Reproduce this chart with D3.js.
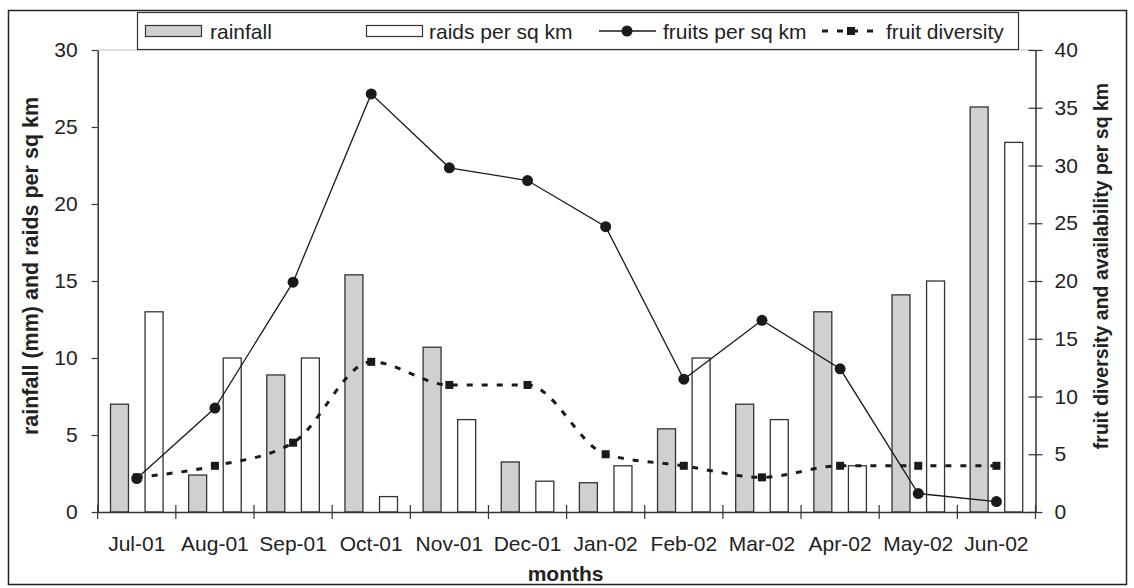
<!DOCTYPE html>
<html>
<head>
<meta charset="utf-8">
<script src="https://cdn.jsdelivr.net/npm/d3@7"></script>
<style>
  html, body { margin: 0; padding: 0; background: #fff; }
  svg { display: block; }
  text { font-family: "Liberation Sans", Arial, sans-serif; fill: #222; }
</style>
</head>
<body>
<script>
// ---- data ----
const months = ["Jul-01","Aug-01","Sep-01","Oct-01","Nov-01","Dec-01","Jan-02","Feb-02","Mar-02","Apr-02","May-02","Jun-02"];
const rainfall = [7.0, 2.4, 8.9, 15.4, 10.7, 3.25, 1.9, 5.4, 7.0, 13.0, 14.1, 26.3];
const raids = [13, 10, 10, 1, 6, 2, 3, 10, 6, 3, 15, 24];
const fruits = [2.9, 9.0, 19.9, 36.2, 29.8, 28.7, 24.7, 11.5, 16.6, 12.4, 1.6, 0.9];
const diversity = [3, 4, 6, 13, 11, 11, 5, 4, 3, 4, 4, 4];
const leftTicks = [0, 5, 10, 15, 20, 25, 30];
const rightTicks = [0, 5, 10, 15, 20, 25, 30, 35, 40];
const seriesNames = ["rainfall", "raids per sq km", "fruits per sq km", "fruit diversity"];
const xTitle = "months";
const yLeftTitle = "rainfall (mm) and raids per sq km";
const yRightTitle = "fruit diversity and availability per sq km";

// ---- layout ----
const W = 1134, H = 588;
const plot = { left: 97.7, right: 1035.5, top: 50, bottom: 512 };
const FS = 21;

const svg = d3.select("body").append("svg").attr("width", W).attr("height", H);

// outer border
svg.append("rect").attr("x", 8.5).attr("y", 10.5).attr("width", 1118).attr("height", 574)
  .attr("fill", "#fff").attr("stroke", "#222").attr("stroke-width", 1.5);

const x0 = d3.scaleBand().domain(months).range([plot.left, plot.right]).padding(0);
const x1 = d3.scaleBand().domain(["rainfall", "raids"]).range([0, x0.bandwidth()])
  .paddingInner(0.48).paddingOuter(0.37);
const yL = d3.scaleLinear().domain([0, 30]).range([plot.bottom, plot.top]);
const yR = d3.scaleLinear().domain([0, 40]).range([plot.bottom, plot.top]);

// faint plot-area top edge
svg.append("line").attr("x1", plot.left).attr("x2", plot.right)
  .attr("y1", plot.top).attr("y2", plot.top).attr("stroke", "#bbb").attr("stroke-width", 1);

// bars
const barData = months.map((m, i) => ({ m, rainfall: rainfall[i], raids: raids[i] }));
const groups = svg.append("g").selectAll("g").data(barData).join("g")
  .attr("transform", d => `translate(${x0(d.m)},0)`);
groups.append("rect")
  .attr("x", x1("rainfall")).attr("width", x1.bandwidth())
  .attr("y", d => yL(d.rainfall)).attr("height", d => yL(0) - yL(d.rainfall))
  .attr("fill", "#d0d0d0").attr("stroke", "#333").attr("stroke-width", 1.3);
groups.append("rect")
  .attr("x", x1("raids")).attr("width", x1.bandwidth())
  .attr("y", d => yL(d.raids)).attr("height", d => yL(0) - yL(d.raids))
  .attr("fill", "#fff").attr("stroke", "#333").attr("stroke-width", 1.3);

const cx = m => x0(m) + x0.bandwidth() / 2;

// diversity (smoothed dashed) line
const divLine = d3.line().x((d, i) => cx(months[i])).y(d => yR(d)).curve(d3.curveMonotoneX);
svg.append("path").datum(diversity).attr("d", divLine)
  .attr("fill", "none").attr("stroke", "#1a1a1a").attr("stroke-width", 3)
  .attr("stroke-dasharray", "6,9");
svg.append("g").selectAll("rect").data(diversity).join("rect")
  .attr("x", (d, i) => cx(months[i]) - 4).attr("y", d => yR(d) - 4)
  .attr("width", 8).attr("height", 8).attr("fill", "#1a1a1a");

// fruits line
const fLine = d3.line().x((d, i) => cx(months[i])).y(d => yR(d));
svg.append("path").datum(fruits).attr("d", fLine)
  .attr("fill", "none").attr("stroke", "#1a1a1a").attr("stroke-width", 1.3);
svg.append("g").selectAll("circle").data(fruits).join("circle")
  .attr("cx", (d, i) => cx(months[i])).attr("cy", d => yR(d)).attr("r", 5.5)
  .attr("fill", "#1a1a1a");

// axes
const axisStyle = g => {
  g.selectAll("path.domain").attr("stroke", "#333").attr("stroke-width", 1.5);
  g.selectAll(".tick line").attr("stroke", "#333").attr("stroke-width", 1.2);
  g.selectAll("text").attr("font-size", FS).attr("font-family", "Liberation Sans, Arial, sans-serif").attr("fill", "#222");
};

const gL = svg.append("g").attr("transform", `translate(${plot.left},0)`)
  .call(d3.axisLeft(yL).tickValues(leftTicks).tickSizeInner(6).tickSizeOuter(0).tickPadding(14))
  .call(axisStyle);

const gR = svg.append("g").attr("transform", `translate(${plot.right},0)`)
  .call(d3.axisRight(yR).tickValues(rightTicks).tickSizeInner(7).tickSizeOuter(0).tickPadding(12))
  .call(axisStyle);
gR.selectAll(".tick line").attr("x1", -7);

const gB = svg.append("g").attr("transform", `translate(0,${plot.bottom})`)
  .call(d3.axisBottom(x0).tickSizeInner(0).tickSizeOuter(0).tickPadding(24))
  .call(axisStyle);
// boundary ticks on the category axis
const bounds = months.map(m => x0(m)).concat([x0.range()[1]]);
gB.append("g").selectAll("line").data(bounds).join("line")
  .attr("x1", d => d).attr("x2", d => d).attr("y1", -7).attr("y2", 7)
  .attr("stroke", "#333").attr("stroke-width", 1.2);

// axis titles
svg.append("text").attr("x", (plot.left + plot.right) / 2 - 1).attr("y", 581)
  .attr("text-anchor", "middle").attr("font-size", 21).attr("font-weight", "bold").text(xTitle);
svg.append("text").attr("transform", "translate(31,266) rotate(-90)")
  .attr("text-anchor", "middle").attr("dominant-baseline", "central")
  .attr("font-size", 21.5).attr("font-weight", "bold").text(yLeftTitle);
svg.append("text").attr("transform", "translate(1101,266) rotate(-90)")
  .attr("text-anchor", "middle").attr("dominant-baseline", "central")
  .attr("font-size", 19.5).attr("font-weight", "bold").text(yRightTitle);

// legend
const lg = svg.append("g");
lg.append("rect").attr("x", 137.5).attr("y", 12.5).attr("width", 881).attr("height", 37)
  .attr("fill", "#fff").attr("stroke", "#333").attr("stroke-width", 1.2);
const ly = 31;
lg.append("rect").attr("x", 145.5).attr("y", 25.5).attr("width", 56).attr("height", 11)
  .attr("fill", "#d0d0d0").attr("stroke", "#333").attr("stroke-width", 1.2);
lg.append("rect").attr("x", 366.5).attr("y", 25.5).attr("width", 56).attr("height", 11)
  .attr("fill", "#fff").attr("stroke", "#333").attr("stroke-width", 1.2);
lg.append("line").attr("x1", 599).attr("x2", 656).attr("y1", ly).attr("y2", ly)
  .attr("stroke", "#1a1a1a").attr("stroke-width", 1.3);
lg.append("circle").attr("cx", 627).attr("cy", ly).attr("r", 5.5).attr("fill", "#1a1a1a");
lg.append("line").attr("x1", 822).attr("x2", 880).attr("y1", ly).attr("y2", ly)
  .attr("stroke", "#1a1a1a").attr("stroke-width", 3).attr("stroke-dasharray", "6,9");
lg.append("rect").attr("x", 847).attr("y", ly - 4).attr("width", 8).attr("height", 8).attr("fill", "#1a1a1a");
const legX = [210, 429, 663, 886];
lg.selectAll("text.lt").data(seriesNames).join("text").attr("class", "lt")
  .attr("x", (d, i) => legX[i]).attr("y", ly).attr("dominant-baseline", "central")
  .attr("font-size", FS).text(d => d);
</script>
</body>
</html>
